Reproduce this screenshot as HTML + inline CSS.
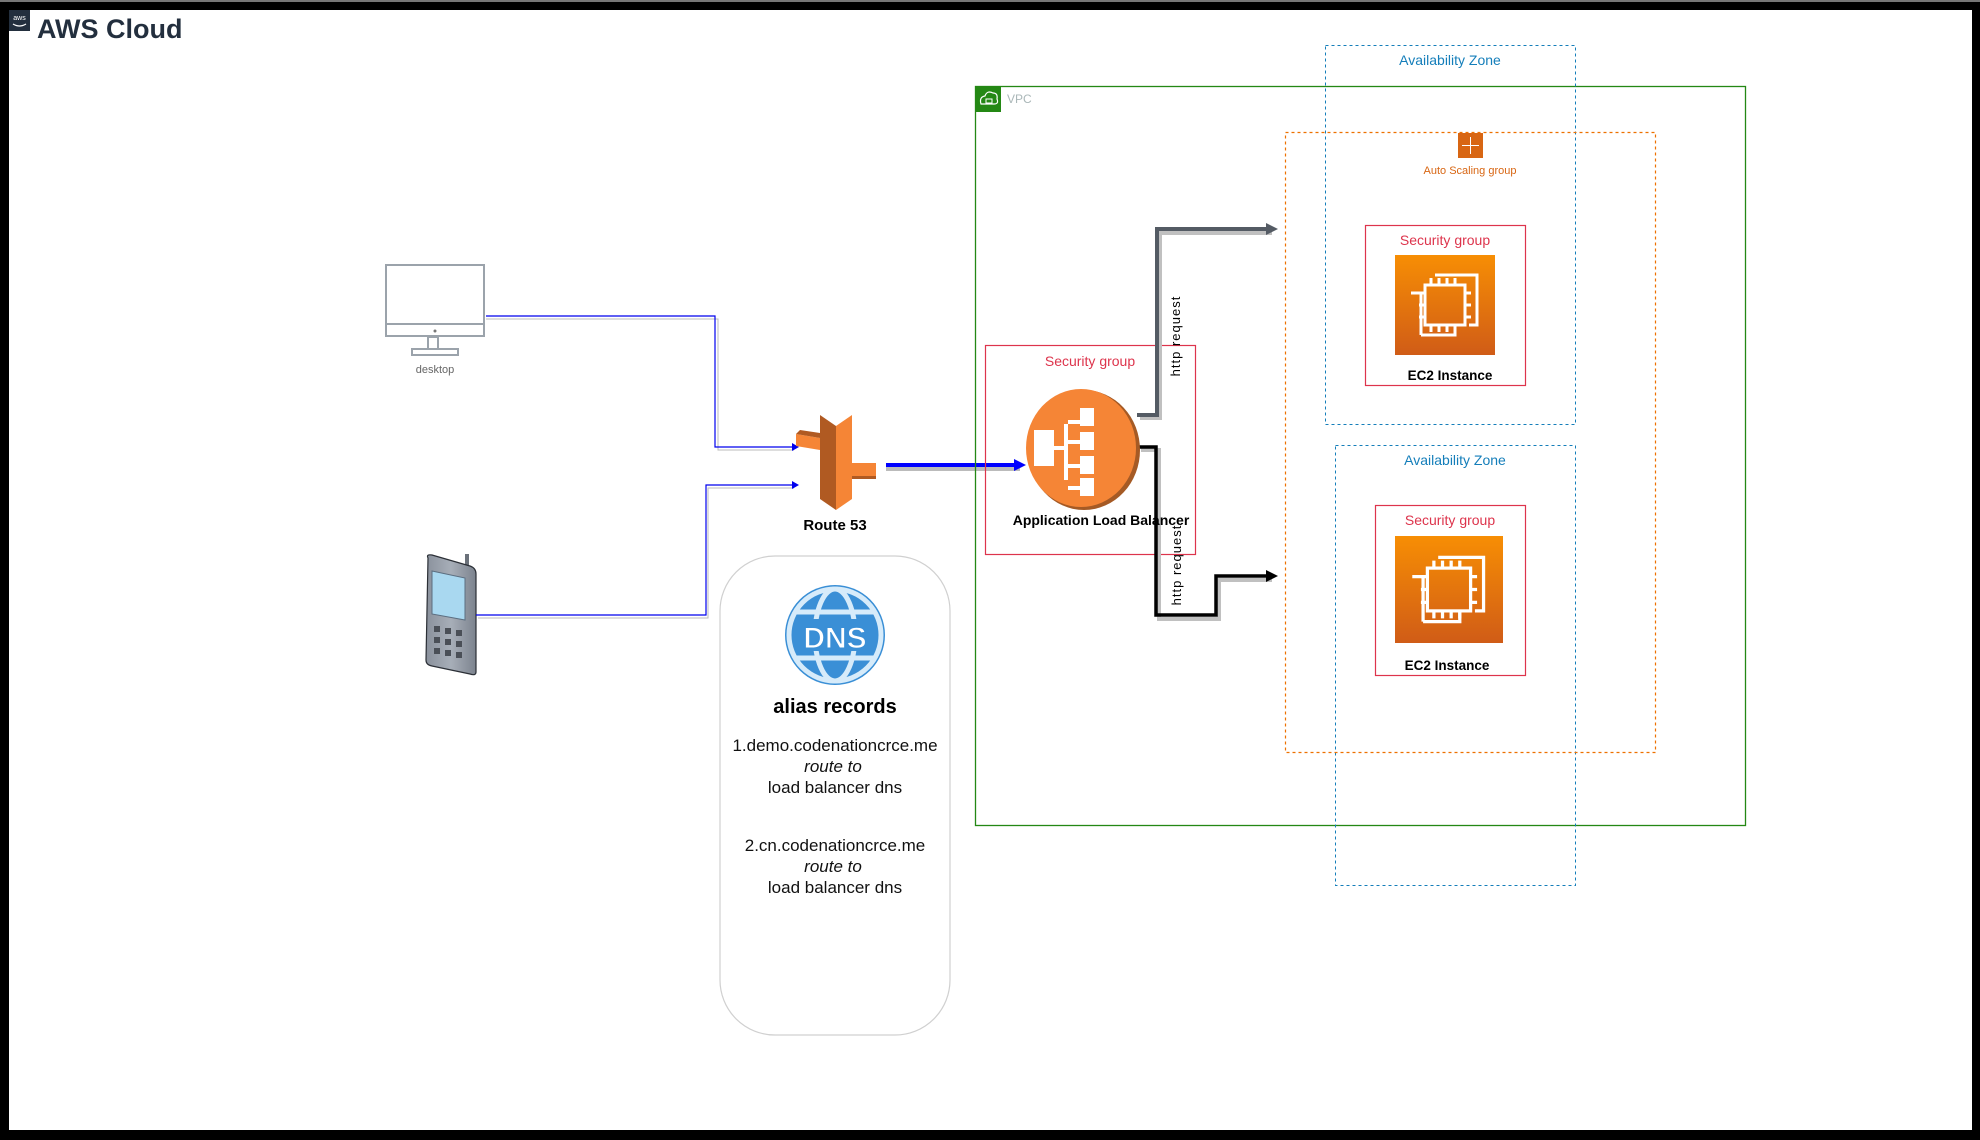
<!DOCTYPE html>
<html><head><meta charset="utf-8"><style>
html,body{margin:0;padding:0;background:#000;}
svg{display:block;}
text{font-family:"Liberation Sans",Arial,sans-serif;}
</style></head><body>
<svg width="1980" height="1140" viewBox="0 0 1980 1140" xmlns="http://www.w3.org/2000/svg">
<defs>
<linearGradient id="og" x1="0" y1="0" x2="0" y2="1"><stop offset="0" stop-color="#F78E04"/><stop offset="1" stop-color="#D05C17"/></linearGradient>
<linearGradient id="ph" x1="0" y1="0" x2="1" y2="0"><stop offset="0" stop-color="#8a919c"/><stop offset=".5" stop-color="#a7aeb8"/><stop offset="1" stop-color="#7c838e"/></linearGradient>
<g id="ec2">
<rect x="0" y="0" width="100" height="100" fill="url(#og)"/>
<g fill="none" stroke="#fff" stroke-width="3">
<path d="M40 20 H82 V70 H74"/>
<path d="M26 80 V38 H16 M26 80 H60 V70"/>
<rect x="30" y="30" width="40" height="40"/>
<path d="M36 30v-7M44 30v-7M52 30v-7M60 30v-7M36 70v7M44 70v7M52 70v7M60 70v7M30 38h-6M30 50h-6M30 62h-6M70 38h6M70 50h6M70 62h6"/>
</g>
</g>
</defs>
<rect x="0" y="0" width="1980" height="1140" fill="#000"/>
<rect x="0" y="0" width="1980" height="2" fill="#777"/>
<rect x="9" y="10" width="1963" height="1120" fill="#fff"/>
<!-- AWS logo -->
<rect x="9" y="10" width="21" height="21" fill="#232f3e"/>
<text x="19.5" y="20" font-size="7" fill="#fff" text-anchor="middle">aws</text>
<path d="M13 24 Q19.5 28 26 24" stroke="#fff" fill="none" stroke-width="1.2"/>
<text x="37" y="38" font-size="27" font-weight="bold" fill="#232f3e">AWS Cloud</text>

<!-- desktop -->
<g fill="none" stroke="#9ba3ab" stroke-width="2">
<rect x="386" y="265" width="98" height="71"/>
<line x1="386" y1="324" x2="484" y2="324"/>
<rect x="428" y="337" width="10" height="12"/>
<rect x="412" y="349" width="46" height="6"/>
</g>
<circle cx="435" cy="331" r="1.5" fill="#777"/>
<text x="435" y="373" font-size="11" fill="#666" text-anchor="middle">desktop</text>

<!-- phone -->
<rect x="465" y="554" width="4" height="14" fill="#6b717a"/>
<path d="M428 558 Q426 554 432 555 L470 566 Q476 568 476 574 V672 Q476 676 470 674 L432 666 Q426 665 426 660 Z" fill="url(#ph)" stroke="#2b2f36" stroke-width="1.2"/>
<path d="M432 571 L465 578 V620 L432 614 Z" fill="#a9d8f0" stroke="#5b6e80"/>
<g fill="#4a4f57">
<rect x="434" y="626" width="6" height="6"/><rect x="445" y="628" width="6" height="6"/><rect x="456" y="630" width="6" height="6"/>
<rect x="434" y="637" width="6" height="6"/><rect x="445" y="639" width="6" height="6"/><rect x="456" y="641" width="6" height="6"/>
<rect x="434" y="648" width="6" height="6"/><rect x="445" y="650" width="6" height="6"/><rect x="456" y="652" width="6" height="6"/>
</g>

<!-- blue connectors -->
<polyline points="486,319 718,319 718,450 794,450" fill="none" stroke="#bbb" stroke-width="1"/>
<polyline points="486,316 715,316 715,447 792,447" fill="none" stroke="#0000ee" stroke-width="1.2"/>
<path d="M792 443 L799 447 L792 451 Z" fill="#0000ee"/>
<polyline points="478,618 708,618 708,488 794,488" fill="none" stroke="#bbb" stroke-width="1"/>
<polyline points="476,615 706,615 706,485 792,485" fill="none" stroke="#0000ee" stroke-width="1.2"/>
<path d="M792 481 L799 485 L792 489 Z" fill="#0000ee"/>

<!-- Route 53 -->
<polygon points="820,415 836,426 836,510 820,499" fill="#B05A22"/>
<polygon points="836,426 852,415 852,499 836,510" fill="#F58536"/>
<polygon points="796,434 820,438 820,450 796,446" fill="#F58536"/>
<polygon points="796,434 800,430 820,433 820,438" fill="#B05A22"/>
<polygon points="852,463 876,463 876,476 852,476" fill="#F58536"/>
<polygon points="852,476 876,476 876,479 852,479" fill="#B05A22"/>
<text x="835" y="530" font-size="15" font-weight="bold" fill="#000" text-anchor="middle">Route 53</text>

<!-- thick blue arrow -->
<line x1="886" y1="469" x2="1020" y2="469" stroke="#bbb" stroke-width="4"/>
<line x1="886" y1="465" x2="1016" y2="465" stroke="#0000ff" stroke-width="4"/>
<path d="M1014 459 L1026 465 L1014 471 Z" fill="#0000ff"/>

<!-- DNS box -->
<rect x="720" y="556" width="230" height="479" rx="55" ry="55" fill="#fff" stroke="#d0d0d0" stroke-width="1.2"/>
<circle cx="835" cy="635" r="50" fill="#3a8fd6"/>
<g fill="none" stroke="#d6ebfa" stroke-width="5">
<circle cx="835" cy="635" r="46"/>
<ellipse cx="835" cy="635" rx="20" ry="46"/>
<path d="M795 612 H875 M795 658 H875"/>
</g>
<rect x="795" y="619" width="80" height="32" fill="#3a8fd6"/>
<text x="835" y="648" font-size="30" font-weight="bold" fill="#fff" text-anchor="middle" stroke="#3a8fd6" stroke-width="1">DNS</text>
<text x="835" y="713" font-size="20" font-weight="bold" fill="#000" text-anchor="middle">alias records</text>
<g font-size="17" fill="#111" text-anchor="middle">
<text x="835" y="751">1.demo.codenationcrce.me</text>
<text x="833" y="772" font-style="italic">route to</text>
<text x="835" y="793">load balancer dns</text>
<text x="835" y="851">2.cn.codenationcrce.me</text>
<text x="833" y="872" font-style="italic">route to</text>
<text x="835" y="893">load balancer dns</text>
</g>

<!-- VPC -->
<rect x="975.5" y="86.5" width="770" height="739" fill="none" stroke="#248814" stroke-width="1.3"/>
<rect x="975" y="86" width="26" height="26" fill="#248814"/>
<path d="M981 104 Q979 97 985 96 Q987 90 993 93 Q998 93 997 99 Q999 104 994 104 Z" fill="none" stroke="#fff" stroke-width="1.2"/>
<rect x="986" y="99" width="6" height="4" fill="none" stroke="#fff" stroke-width="1"/>
<text x="1007" y="103" font-size="12" fill="#aab7b8">VPC</text>

<!-- AZ1, AZ2 -->
<rect x="1325.5" y="45.5" width="250" height="379" fill="none" stroke="#147EBA" stroke-width="1" stroke-dasharray="3,3"/>
<text x="1450" y="65" font-size="14" fill="#147EBA" text-anchor="middle">Availability Zone</text>
<rect x="1335.5" y="445.5" width="240" height="440" fill="none" stroke="#147EBA" stroke-width="1" stroke-dasharray="3,3"/>
<text x="1455" y="465" font-size="14" fill="#147EBA" text-anchor="middle">Availability Zone</text>

<!-- ASG -->
<rect x="1285.5" y="132.5" width="370" height="620" fill="none" stroke="#ED7100" stroke-width="1.2" stroke-dasharray="3,3"/>
<rect x="1458" y="133" width="25" height="25" fill="#D86613"/>
<g stroke="#fff" stroke-width="1" fill="none"><path d="M1470.5 137 V154 M1462 145.5 H1479"/></g>
<text x="1470" y="174" font-size="11" fill="#D86613" text-anchor="middle">Auto Scaling group</text>

<!-- SG1 / EC2 -->
<rect x="1365.5" y="225.5" width="160" height="160" fill="none" stroke="#DD344C" stroke-width="1.2"/>
<text x="1445" y="245" font-size="14" fill="#DD344C" text-anchor="middle">Security group</text>
<use href="#ec2" transform="translate(1395,255)"/>
<text x="1450" y="380" font-size="13.5" font-weight="bold" fill="#000" text-anchor="middle">EC2 Instance</text>

<rect x="1375.5" y="505.5" width="150" height="170" fill="none" stroke="#DD344C" stroke-width="1.2"/>
<text x="1450" y="525" font-size="14" fill="#DD344C" text-anchor="middle">Security group</text>
<use href="#ec2" transform="translate(1395,536) scale(1.08,1.07)"/>
<text x="1447" y="670" font-size="13.5" font-weight="bold" fill="#000" text-anchor="middle">EC2 Instance</text>

<!-- ALB SG -->
<rect x="985.5" y="345.5" width="210" height="209" fill="none" stroke="#DD344C" stroke-width="1.2"/>
<text x="1090" y="366" font-size="14" fill="#DD344C" text-anchor="middle">Security group</text>

<!-- connectors to EC2 -->
<polyline points="1140,418 1160,418 1160,233 1272,233" fill="none" stroke="#c0c0c0" stroke-width="4"/>
<polyline points="1137,415 1157,415 1157,229 1268,229" fill="none" stroke="#545B64" stroke-width="4"/>
<path d="M1266 223 L1278 229 L1266 235 Z" fill="#545B64"/>
<polyline points="1141,450 1159,450 1159,619 1219,619 1219,580 1272,580" fill="none" stroke="#c0c0c0" stroke-width="4"/>
<polyline points="1139,447 1156,447 1156,615 1216,615 1216,576 1268,576" fill="none" stroke="#000" stroke-width="3.5"/>
<path d="M1266 570 L1278 576 L1266 582 Z" fill="#000"/>

<!-- ALB icon -->
<ellipse cx="1084" cy="450" rx="56" ry="60" fill="#a55a25"/>
<ellipse cx="1081" cy="448" rx="55" ry="59" fill="#F58536"/>
<g fill="#fff">
<rect x="1034" y="430" width="20" height="36"/>
<rect x="1054" y="446" width="12" height="4"/>
<rect x="1064" y="424" width="4" height="56"/>
<rect x="1068" y="420" width="12" height="4"/>
<rect x="1080" y="408" width="14" height="18"/>
<rect x="1080" y="432" width="14" height="18"/>
<rect x="1080" y="456" width="14" height="18"/>
<rect x="1080" y="478" width="14" height="18"/>
<rect x="1068" y="440" width="12" height="4"/>
<rect x="1068" y="464" width="12" height="4"/>
<rect x="1068" y="486" width="12" height="4"/>
</g>
<text x="1101" y="525" font-size="14" font-weight="bold" fill="#000" text-anchor="middle">Application Load Balancer</text>

<text transform="translate(1180,336) rotate(-90)" font-size="13" fill="#000" text-anchor="middle" letter-spacing="1">http request</text>
<text transform="translate(1181,565) rotate(-90)" font-size="13" fill="#000" text-anchor="middle" letter-spacing="1">http request</text>
</svg>
</body></html>
